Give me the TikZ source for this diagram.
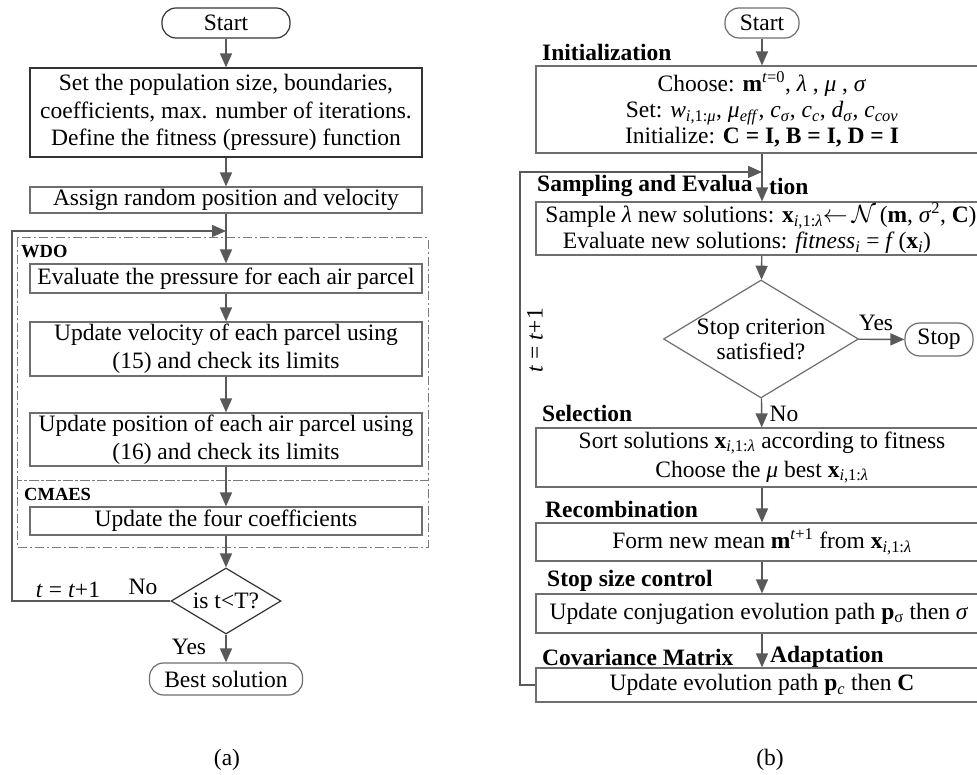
\documentclass[tikz,border=0pt]{standalone}
\usepackage{fontspec}
\setmainfont{Liberation Serif}
\usetikzlibrary{arrows.meta,shapes.geometric}
\definecolor{arrgray}{HTML}{595959}
\definecolor{boxgray}{HTML}{6E6E6E}
\definecolor{darkbox}{HTML}{333333}
\definecolor{grpgray}{HTML}{7A7A7A}
\newcommand{\bigtxt}{\fontsize{23.5}{27.5}\selectfont}
\newcommand{\smalltxt}{\fontsize{18.5}{22}\selectfont}
\newcommand{\sbs}[1]{\textsubscript{#1}}
\newcommand{\sps}[1]{\textsuperscript{#1}}
\tikzset{
  box/.style={draw=boxgray, line width=1.2pt, rectangle, inner sep=0pt, align=center, font=\bigtxt},
  term/.style={draw=boxgray, line width=1.2pt, rectangle, rounded corners=14pt, inner sep=0pt, font=\bigtxt},
  dia/.style={draw=boxgray, line width=1.2pt, diamond, inner sep=-5pt, align=center, font=\bigtxt},
  arr/.style={draw=arrgray, line width=1.4pt, -{Triangle[length=14pt,width=12pt]}},
  lbl/.style={inner sep=0pt, font=\bigtxt},
  blbl/.style={inner sep=0pt, font=\bigtxt\bfseries},
  slbl/.style={inner sep=0pt, font=\smalltxt\bfseries},
  grp/.style={draw=grpgray, line width=1pt, dash pattern=on 9pt off 3pt on 2pt off 3pt}
}
\begin{document}
\begin{tikzpicture}[x=1pt,y=-1pt]
\clip (0,0) rectangle (977,775);
\fill[white] (0,0) rectangle (977,775);
% ---------------- (a) ----------------
\draw[grp] (17,238) rectangle (428,480);
\draw[grp] (17,480) rectangle (428,547);
\node[slbl, anchor=west] (wdo) at (21,252) {WDO};
\node[slbl, anchor=west] (cmaes) at (24,494) {CMAES};

\node[term, draw=darkbox, minimum width=128pt, minimum height=30pt] (astart) at (226,23) {Start};
\node[box, draw=darkbox, minimum width=392pt, minimum height=89pt] (aset) at (226,112.5)
  {Set the population size, boundaries,\\ coefficients, max. number of iterations.\\ Define the fitness (pressure) function};
\node[box, minimum width=392pt, minimum height=26pt] (aassign) at (226,200) {Assign random position and velocity};
\node[box, minimum width=392pt, minimum height=29pt] (aeval) at (226,278.5) {Evaluate the pressure for each air parcel};
\node[box, font=\fontsize{23.5}{28}\selectfont, minimum width=392pt, minimum height=54pt] (avel) at (226,349) {Update velocity of each parcel using\\ (15) and check its limits};
\node[box, font=\fontsize{23.5}{28}\selectfont, minimum width=392pt, minimum height=53pt] (apos) at (226,439.5) {Update position of each air parcel using\\ (16) and check its limits};
\node[box, minimum width=392pt, minimum height=28pt] (acoef) at (226,521) {Update the four coefficients};
\node[dia, draw=darkbox, aspect=1.67, minimum width=110pt, minimum height=66pt] (atest) at (226,601) {is t<T?};
\node[term, minimum width=153pt, minimum height=32pt] (abest) at (226,679) {Best solution};

\coordinate (ajoin) at (226,231);
\coordinate (aloop) at (12,231);

\draw[arr] (astart) -- (aset);
\draw[arr] (aset) -- (aassign);
\draw[arr] (aassign) -- (aeval);
\draw[arr] (aeval) -- (avel);
\draw[arr] (avel) -- (apos);
\draw[arr] (apos) -- (acoef);
\draw[arr] (acoef) -- (atest);
\draw[arr] (atest) -- (abest);
\draw[arr] (atest.west) -| (aloop) -- (ajoin);

\node[lbl] (ano) at (143,587) {No};
\node[lbl] (ainc) at (68,590) {\textit{t} = \textit{t}+1};
\node[lbl] (ayes) at (189,647) {Yes};
\node[lbl] (acap) at (227,760) {(a)};

% ---------------- (b) ----------------
\node[term, minimum width=74pt, minimum height=30pt] (bstart) at (762,23) {Start};
\node[blbl, anchor=west] (binitl) at (542,52) {Initialization};
\node[box, font=\fontsize{23.5}{26}\selectfont, minimum width=452pt, minimum height=87pt] (binit) at (762,109.5)
  {Choose: \textbf{m}\sps{\textit{t}=0}, \textit{λ} , \textit{μ} , \textit{σ}\\
   Set: \textit{w}\sbs{\textit{i},1:\textit{μ}}, \textit{μ}\sbs{\textit{eff}}, \textit{c}\sbs{\textit{σ}}, \textit{c}\sbs{\textit{c}}, \textit{d}\sbs{\textit{σ}}, \textit{c}\sbs{\textit{cov}}\\
   Initialize: \textbf{C = I, B = I, D = I}};
\node[blbl, anchor=west] (bsampl1) at (537,186) {Sampling and Evalua};
\node[blbl, anchor=west] (bsampl2) at (769,186) {tion};
\node[box, font=\fontsize{23.5}{26}\selectfont, minimum width=452pt, minimum height=53pt] (bsamp) at (762,228.5)
  {\hspace*{-2pt}Sample \textit{λ} new solutions: \textbf{x}\sbs{\textit{i},1:\textit{λ}}$\leftarrow$\,$\mathcal{N}$\,(\textbf{m}, \textit{σ}\sps{2}, \textbf{C})\\
   Evaluate new solutions: \textit{fitness}\sbs{\textit{i}} = \textit{f}\,(\textbf{x}\sbs{\textit{i}})\hspace*{30pt}};
\node[dia, aspect=1.65, minimum width=195pt, minimum height=118pt, font=\fontsize{23.5}{25}\selectfont] (btest) at (761,339) {Stop criterion\\ satisfied?};
\node[term, minimum width=68pt, minimum height=33pt, rounded corners=15pt] (bstop) at (939,339.5) {Stop};
\node[blbl, anchor=west] (bsell) at (542,413) {Selection};
\node[box, font=\fontsize{23.5}{29}\selectfont, minimum width=452pt, minimum height=59pt] (bsel) at (762,457.5)
  {Sort solutions \textbf{x}\sbs{\textit{i},1:\textit{λ}} according to fitness\\
   Choose the \textit{μ} best \textbf{x}\sbs{\textit{i},1:\textit{λ}}};
\node[blbl, anchor=west] (brecl) at (545,509) {Recombination};
\node[box, minimum width=452pt, minimum height=38pt] (brec) at (762,542)
  {Form new mean \textbf{m}\sps{\textit{t}+1} from \textbf{x}\sbs{\textit{i},1:\textit{λ}}};
\node[blbl, anchor=west] (bssl) at (547,581) {Stop size control};
\node[box, minimum width=452pt, minimum height=39pt] (bss) at (762,613.5)
  {\hspace*{-6pt}Update conjugation evolution path \textbf{p}\sbs{σ} then \textit{σ}};
\node[blbl, anchor=west] (bcmal1) at (542,657) {Covariance Matrix};
\node[blbl, anchor=west] (bcmal2) at (770,657) {Adaptation};
\node[box, minimum width=452pt, minimum height=34pt] (bcma) at (762,685)
  {Update evolution path \textbf{p}\sbs{\textit{c}} then \textbf{C}};

\coordinate (bjoin) at (762,172);
\coordinate (bloop) at (520,172);

\draw[arr] (bstart) -- (binit);
\draw[arr] (binit) -- (bsamp);
\draw[arr] (bsamp) -- (btest);
\draw[arr] (btest) -- (bstop);
\draw[arr] (btest) -- (bsel);
\draw[arr] (bsel) -- (brec);
\draw[arr] (brec) -- (bss);
\draw[arr] (bss) -- (bcma);
\draw[arr] (bcma.west) -| (bloop) -- (bjoin);

\node[lbl] (byes) at (876,323) {Yes};
\node[lbl] (bno) at (784,414) {No};
\node[lbl, rotate=90] (binc) at (535,340) {\textit{t} = \textit{t}+1};
\node[lbl] (bcap) at (770,760) {(b)};
\end{tikzpicture}
\end{document}
